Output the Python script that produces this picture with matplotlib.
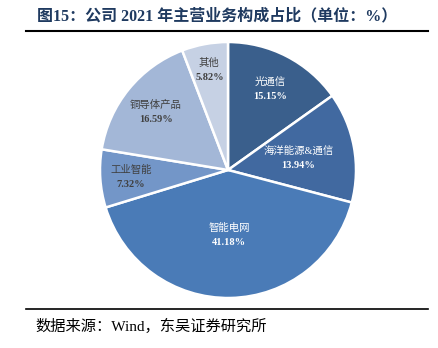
import matplotlib
matplotlib.use("Agg")
import numpy as np
import matplotlib.pyplot as plt
from matplotlib.lines import Line2D

plt.rcParams['font.family'] = ['Liberation Serif', 'Noto Sans CJK SC', 'DejaVu Sans']

# --- datos ---
categorias = ['光通信', '海洋能源&通信', '智能电网', '工业智能', '铜导体产品', '其他']
valores = [15.15, 13.94, 41.18, 7.32, 16.59, 5.82]
colores = ['#3a5f8c', '#4169a0', '#4a7bb7', '#7396c8', '#a3b7d7', '#c6d1e4']
color_texto = ['white', 'white', 'white', '#404040', '#404040', '#404040']
dist_etiqueta = [0.72, 0.56, 0.50, 0.76, 0.73, 0.80]

titulo = '图15：公司 2021 年主营业务构成占比（单位：%）'
fuente = '数据来源：Wind，东吴证券研究所'

W, H = 438, 348
fig = plt.figure(figsize=(W / 100, H / 100), dpi=100)

# pie axes (centre ~ (228,170) px, radio ~128 px)
cx, cy, r = 228, 170, 128
ax = fig.add_axes([(cx - r) / W, (H - cy - r) / H, 2 * r / W, 2 * r / H])
wedges, _ = ax.pie(valores, colors=colores, startangle=90, counterclock=False,
                   radius=1.0,
                   wedgeprops=dict(edgecolor='white', linewidth=1.8))
ax.set_xlim(-1.0, 1.0)
ax.set_ylim(-1.0, 1.0)
ax.set_aspect('equal')
ax.axis('off')

for w, cat, val, col, d in zip(wedges, categorias, valores, color_texto, dist_etiqueta):
    ang = np.deg2rad((w.theta1 + w.theta2) / 2)
    x, y = d * np.cos(ang), d * np.sin(ang)
    ax.text(x, y + 0.05, cat, ha='center', va='center', fontsize=7.5, color=col)
    ax.text(x, y - 0.065, f'{val:.2f}%', ha='center', va='center', fontsize=7.5,
            color=col, fontweight='bold')

# titulo y lineas
fig.text(37 / W, 1 - 16 / H, titulo, ha='left', va='center', fontsize=11.5,
         fontweight='bold', color='#1f3a60')
fig.add_artist(Line2D([26 / W, 428 / W], [1 - 31 / H, 1 - 31 / H], color='black', linewidth=1.5))
fig.add_artist(Line2D([26 / W, 428 / W], [1 - 309 / H, 1 - 309 / H], color='black', linewidth=1.2))
fig.text(35 / W, 1 - 326 / H, fuente, ha='left', va='center', fontsize=11, color='black')

fig.savefig('out.png', dpi=100)
